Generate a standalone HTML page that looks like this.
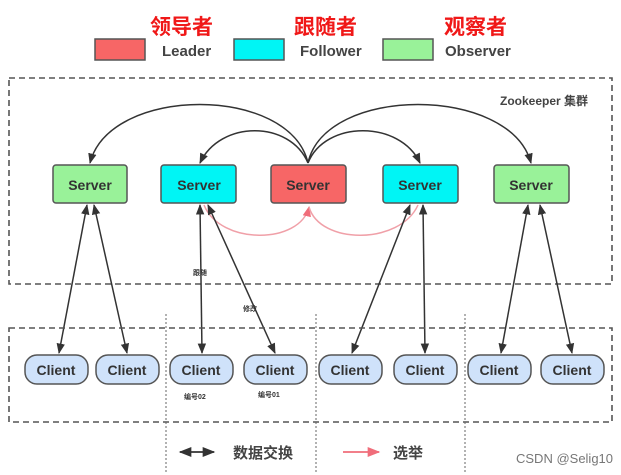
<!DOCTYPE html>
<html><head><meta charset="utf-8"><style>
body{margin:0;background:#fff;width:621px;height:475px;overflow:hidden}
svg{display:block}
text{font-family:"Liberation Sans","Noto Sans CJK SC",sans-serif}
</style></head><body>
<svg width="621" height="475" viewBox="0 0 621 475" xmlns="http://www.w3.org/2000/svg">
<defs>
<marker id="a" viewBox="0 0 10 10" refX="9" refY="5" markerWidth="7" markerHeight="7" orient="auto-start-reverse"><path d="M0,1 L10,5 L0,9 z" fill="#333"/></marker>
<marker id="p" viewBox="0 0 10 10" refX="9" refY="5" markerWidth="7" markerHeight="7" orient="auto"><path d="M0,1 L10,5 L0,9 z" fill="#f06d7a"/></marker>
</defs>
<g font-weight="bold" font-size="21" fill="#f01818">
<text x="150" y="34">领导者</text><text x="294" y="34">跟随者</text><text x="444" y="34">观察者</text>
</g>
<rect x="95" y="39" width="50" height="21" fill="#f76666" stroke="#555" stroke-width="1.5"/>
<rect x="234" y="39" width="50" height="21" fill="#00f5f5" stroke="#555" stroke-width="1.5"/>
<rect x="383" y="39" width="50" height="21" fill="#99f299" stroke="#555" stroke-width="1.5"/>
<g font-size="15" fill="#444" font-weight="bold"><text x="162" y="56">Leader</text><text x="300" y="56">Follower</text><text x="445" y="56">Observer</text></g>
<rect x="9" y="78" width="603" height="206" fill="none" stroke="#555" stroke-width="1.6" stroke-dasharray="6,4"/>
<text x="500" y="105" font-size="12" font-weight="bold" fill="#444">Zookeeper 集群</text>
<g fill="none" stroke="#333" stroke-width="1.5">
<path d="M308,163 C290,85 110,85 90,163" marker-end="url(#a)"/>
<path d="M308,163 C325,85 510,85 531,163" marker-end="url(#a)"/>
<path d="M308,163 C290,120 220,120 200,163" marker-end="url(#a)"/>
<path d="M308,163 C325,120 400,120 420,163" marker-end="url(#a)"/>
</g>
<g fill="none" stroke="#f0a0a8" stroke-width="1.5">
<path d="M204,205 C220,245 300,245 309,207" marker-end="url(#p)"/>
<path d="M418,205 C400,245 320,245 309,207"/>
</g>
<g font-size="14" font-weight="bold" fill="#333" text-anchor="middle">
<rect x="53" y="165" width="74" height="38" rx="3" fill="#99f299" stroke="#555" stroke-width="1.5"/><text x="90" y="190">Server</text>
<rect x="161" y="165" width="75" height="38" rx="3" fill="#00f5f5" stroke="#555" stroke-width="1.5"/><text x="199" y="190">Server</text>
<rect x="271" y="165" width="75" height="38" rx="3" fill="#f76666" stroke="#555" stroke-width="1.5"/><text x="308" y="190">Server</text>
<rect x="383" y="165" width="75" height="38" rx="3" fill="#00f5f5" stroke="#555" stroke-width="1.5"/><text x="420" y="190">Server</text>
<rect x="494" y="165" width="75" height="38" rx="3" fill="#99f299" stroke="#555" stroke-width="1.5"/><text x="531" y="190">Server</text>
</g>
<g stroke="#333" stroke-width="1.5" marker-start="url(#a)" marker-end="url(#a)">
<line x1="87" y1="205" x2="59" y2="353"/><line x1="94" y1="205" x2="127" y2="353"/>
<line x1="200" y1="205" x2="202" y2="353"/><line x1="208" y1="205" x2="275" y2="353"/>
<line x1="410" y1="205" x2="352" y2="353"/><line x1="423" y1="205" x2="425" y2="353"/>
<line x1="528" y1="205" x2="501" y2="353"/><line x1="540" y1="205" x2="572" y2="353"/>
</g>
<rect x="9" y="328" width="603" height="94" fill="none" stroke="#555" stroke-width="1.6" stroke-dasharray="6,4"/>
<g stroke="#666" stroke-width="1" stroke-dasharray="2,2"><line x1="166" y1="314" x2="166" y2="472"/><line x1="316" y1="314" x2="316" y2="472"/><line x1="465" y1="314" x2="465" y2="472"/></g>
<g font-size="14" font-weight="bold" fill="#333" text-anchor="middle">
<rect x="25" y="355" width="63" height="29" rx="12" fill="#cfe2fa" stroke="#555" stroke-width="1.5"/><text x="56" y="375">Client</text>
<rect x="96" y="355" width="63" height="29" rx="12" fill="#cfe2fa" stroke="#555" stroke-width="1.5"/><text x="127" y="375">Client</text>
<rect x="170" y="355" width="63" height="29" rx="12" fill="#cfe2fa" stroke="#555" stroke-width="1.5"/><text x="201" y="375">Client</text>
<rect x="244" y="355" width="63" height="29" rx="12" fill="#cfe2fa" stroke="#555" stroke-width="1.5"/><text x="275" y="375">Client</text>
<rect x="319" y="355" width="63" height="29" rx="12" fill="#cfe2fa" stroke="#555" stroke-width="1.5"/><text x="350" y="375">Client</text>
<rect x="394" y="355" width="63" height="29" rx="12" fill="#cfe2fa" stroke="#555" stroke-width="1.5"/><text x="425" y="375">Client</text>
<rect x="468" y="355" width="63" height="29" rx="12" fill="#cfe2fa" stroke="#555" stroke-width="1.5"/><text x="499" y="375">Client</text>
<rect x="541" y="355" width="63" height="29" rx="12" fill="#cfe2fa" stroke="#555" stroke-width="1.5"/><text x="572" y="375">Client</text>
</g>
<g font-size="7" fill="#333" font-weight="bold">
<text x="193" y="275">跟随</text><text x="243" y="311">修改</text>
<text x="184" y="399">编号02</text><text x="258" y="397">编号01</text>
</g>
<line x1="180" y1="452" x2="214" y2="452" stroke="#333" stroke-width="1.8" marker-start="url(#a)" marker-end="url(#a)"/>
<text x="233" y="458" font-size="15" font-weight="bold" fill="#444">数据交换</text>
<line x1="343" y1="452" x2="379" y2="452" stroke="#f06d7a" stroke-width="1.8" marker-end="url(#p)"/>
<text x="393" y="458" font-size="15" font-weight="bold" fill="#444">选举</text>
<text x="516" y="463" font-size="13" fill="#777">CSDN @Selig10</text>
</svg>
</body></html>
